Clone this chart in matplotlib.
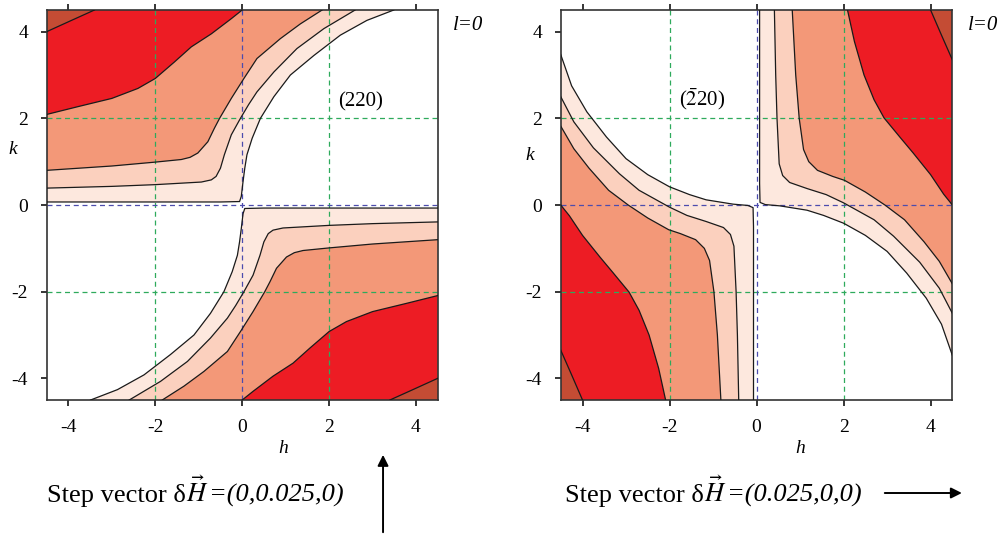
import matplotlib.pyplot as plt
from matplotlib.patches import FancyArrowPatch

plt.rcParams['font.family'] = ['Liberation Serif', 'DejaVu Serif']
plt.rcParams['mathtext.fontset'] = 'stix'
plt.rcParams['axes.unicode_minus'] = False

ticks = [-4, -2, 0, 2, 4]
tick_labels = ['-4', '-2', '0', '2', '4']
lim = 4.5
fill_colors = ['#fde8de', '#fbd0be', '#f39878', '#ed1c24', '#c44c34']

# (220) map, upper-left lobe: one contour per level, left edge -> top edge.
# the lower-right lobe is the same lobe turned by 180 degrees
h220_a = [-4.5, -2.0, -0.5, -0.06, -0.02, 0.02, 0.06, 0.11, 0.23, 0.42, 0.73, 1.11, 1.65, 2.26, 2.87, 3.49]
k220_a = [0.07, 0.07, 0.07, 0.08, 0.2, 0.54, 0.85, 1.16, 1.54, 2.0, 2.5, 3.0, 3.45, 3.92, 4.26, 4.5]
h220_b = [-4.5, -3.0, -2.0, -0.94, -0.71, -0.6, -0.5, -0.41, -0.25, -0.04, 0.15, 0.34, 0.73, 1.26, 1.88, 2.6]
k220_b = [0.39, 0.43, 0.47, 0.53, 0.58, 0.66, 0.85, 1.16, 1.62, 2.0, 2.32, 2.61, 3.07, 3.61, 4.07, 4.5]
h220_c = [-4.5, -3.0, -2.0, -1.4, -1.2, -1.02, -0.79, -0.64, -0.52, -0.25, 0.04, 0.34, 0.88, 1.34, 1.84]
k220_c = [0.80, 0.90, 0.99, 1.05, 1.1, 1.20, 1.46, 1.77, 2.0, 2.46, 2.92, 3.38, 3.84, 4.18, 4.5]
h220_d = [-4.5, -3.78, -3.0, -2.4, -2.0, -1.56, -1.17, -0.71, -0.25, 0.0]
k220_d = [2.09, 2.27, 2.46, 2.69, 2.92, 3.3, 3.65, 3.95, 4.3, 4.5]
h220_e = [-4.5, -3.93, -3.4]
k220_e = [4.0, 4.26, 4.5]

# (-220) map, upper-right lobe: top edge -> right edge, lower-left lobe by symmetry
hm_a = [0.07, 0.07, 0.07, 0.08, 0.2, 0.54, 1.16, 1.54, 2.0, 2.5, 3.0, 3.45, 3.9, 4.25, 4.5]
km_a = [4.5, 2.0, 0.5, 0.06, 0.01, -0.02, -0.12, -0.24, -0.42, -0.7, -1.07, -1.57, -2.15, -2.75, -3.47]
hm_b = [0.41, 0.44, 0.47, 0.52, 0.6, 0.76, 1.16, 1.6, 2.0, 2.7, 3.15, 3.75, 4.2, 4.5]
km_b = [4.5, 3.0, 2.0, 0.95, 0.68, 0.52, 0.38, 0.24, 0.05, -0.34, -0.72, -1.32, -1.92, -2.5]
hm_c = [0.82, 0.9, 0.98, 1.08, 1.2, 1.4, 1.75, 2.02, 2.5, 2.95, 3.4, 3.85, 4.2, 4.5]
km_c = [4.5, 3.0, 2.0, 1.28, 1.0, 0.8, 0.66, 0.57, 0.3, 0.0, -0.34, -0.85, -1.3, -1.82]
hm_d = [2.09, 2.25, 2.47, 2.7, 2.93, 3.3, 3.6, 4.0, 4.3, 4.5]
km_d = [4.5, 3.77, 3.0, 2.43, 2.01, 1.56, 1.2, 0.7, 0.25, 0.0]
hm_e = [4.0, 4.25, 4.5]
km_e = [4.5, 3.92, 3.35]

curves_220 = [(h220_a, k220_a), (h220_b, k220_b), (h220_c, k220_c), (h220_d, k220_d), (h220_e, k220_e)]
curves_m220 = [(hm_a, km_a), (hm_b, km_b), (hm_c, km_c), (hm_d, km_d), (hm_e, km_e)]

step_texts = [('Step vector δ', 'normal'), (r'$\vec{H}$', 'normal'), ('=(0,0.025,0)', 'italic')]
step_texts2 = [('Step vector δ', 'normal'), (r'$\vec{H}$', 'normal'), ('=(0.025,0,0)', 'italic')]


def draw_map(ax, curves, corner):
    for i, (hs, ks) in enumerate(curves):
        for s in (1, -1):
            xs = [s * h for h in hs] + [s * corner[0]]
            ys = [s * k for k in ks] + [s * corner[1]]
            ax.fill(xs, ys, color=fill_colors[i], lw=0, zorder=1)
    for hs, ks in curves:
        for s in (1, -1):
            ax.plot([s * h for h in hs], [s * k for k in ks], color='#1a1a1a', lw=0.9, zorder=3)

    for v in (-2, 2):
        ax.axvline(v, color='#2eaa5c', lw=0.9, ls=(0, (4, 3)), zorder=2)
        ax.axhline(v, color='#2eaa5c', lw=0.9, ls=(0, (4, 3)), zorder=2)
    ax.axvline(0, color='#4c4cae', lw=0.9, ls=(0, (4, 3)), zorder=2)
    ax.axhline(0, color='#4c4cae', lw=0.9, ls=(0, (4, 3)), zorder=2)

    ax.set_xlim(-lim, lim)
    ax.set_ylim(-lim, lim)
    ax.set_xticks(ticks)
    ax.set_xticklabels(tick_labels)
    ax.set_yticks(ticks)
    ax.set_yticklabels(tick_labels)
    ax.tick_params(axis='both', direction='out', length=4.5, width=1.1, labelsize=14, top=True, right=False)
    ax.tick_params(axis='x', pad=9)
    ax.tick_params(axis='y', pad=9)
    for sp in ax.spines.values():
        sp.set_linewidth(1.2)
        sp.set_color('#333333')
    ax.set_xlabel('h', fontsize=14, fontstyle='italic')
    ax.set_ylabel('k', fontsize=14, fontstyle='italic', rotation=0)
    ax.text(1.04, 0.96, 'l=0', transform=ax.transAxes, fontsize=15, fontstyle='italic', ha='left', va='center')


def chain_text(fig, x, y, parts):
    renderer = fig.canvas.get_renderer()
    for s, style in parts:
        t = fig.text(x, y, s, fontsize=19, fontstyle=style, ha='left', va='baseline')
        x = t.get_window_extent(renderer).x1 / fig.bbox.width


fig = plt.figure(figsize=(10.08, 5.35), dpi=100)
ax1 = fig.add_axes([0.0463, 0.2523, 0.3879, 0.7290])
ax2 = fig.add_axes([0.5563, 0.2523, 0.3885, 0.7290])

draw_map(ax1, curves_220, (-lim, lim))
draw_map(ax2, curves_m220, (lim, lim))

ax1.xaxis.set_label_coords(0.604, -0.103)
ax1.yaxis.set_label_coords(-0.086, 0.62)
ax2.xaxis.set_label_coords(0.611, -0.103)
ax2.yaxis.set_label_coords(-0.078, 0.605)

ax1.text(2.72, 2.39, '(220)', fontsize=15, ha='center', va='center', zorder=4)
ax2.text(-1.25, 2.44, r'($\bar{2}$20)', fontsize=15, ha='center', va='center', zorder=4)

chain_text(fig, 0.047, 0.062, step_texts)
chain_text(fig, 0.561, 0.062, step_texts2)

fig.add_artist(FancyArrowPatch((0.380, 0.0), (0.380, 0.155), transform=fig.transFigure,
                               arrowstyle='-|>', mutation_scale=16, lw=1.4, color='black'))
fig.add_artist(FancyArrowPatch((0.875, 0.0785), (0.957, 0.0785), transform=fig.transFigure,
                               arrowstyle='-|>', mutation_scale=16, lw=1.4, color='black'))

fig.savefig('out.png', dpi=100)
